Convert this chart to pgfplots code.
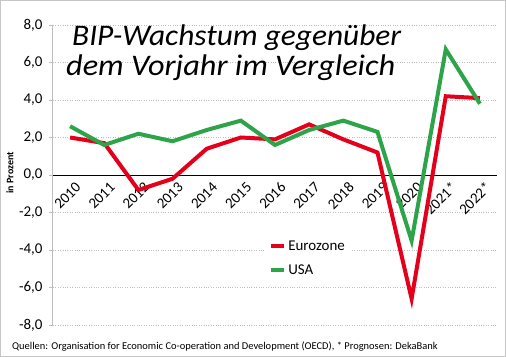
\documentclass[border=0pt]{standalone}
\usepackage{fontspec}
\setmainfont{Carlito}
\usepackage{pgfplots}
\pgfplotsset{compat=1.18}
\definecolor{eured}{RGB}{228,0,27}
\definecolor{usgreen}{RGB}{46,164,74}
\definecolor{gridgray}{RGB}{190,190,190}
\begin{document}
\begin{tikzpicture}
\useasboundingbox (0,0) rectangle (506bp,-357bp);
\draw[gray!45, line width=1bp] (0.5bp,-0.5bp) rectangle (505.5bp,-356.5bp);
\begin{axis}[
  at={(53bp,-325bp)}, anchor=south west,
  scale only axis, width=444bp, height=300bp,
  xmin=-0.5, xmax=12.5, ymin=-8, ymax=8,
  axis x line=middle, axis y line=left,
  x axis line style={black, line width=1bp, -},
  y axis line style={gridgray, line width=1bp, -},
  xtick={0,...,12},
  xticklabels={2010,2011,2012,2013,2014,2015,2016,2017,2018,2019,2020,2021*,2022*},
  x tick style={draw=none},
  extra x ticks={-0.5,0.5,...,12.5},
  extra x tick labels={},
  extra x tick style={tick style={black, line width=0.8bp}, major tick length=4bp, tick align=outside, xticklabel=\empty},
  ytick={-8,-6,...,8},
  y tick style={gridgray, line width=0.8bp},
  major tick length=4bp, tick align=outside,
  ymajorgrids, grid style={gridgray, dotted, line width=0.8bp},
  xticklabel style={rotate=45, anchor=east, font=\fontsize{15}{17}\selectfont, yshift=-10bp, xshift=5bp},
  yticklabel style={font=\fontsize{15}{17}\selectfont, xshift=-3bp},
  /pgf/number format/.cd, fixed, fixed zerofill, precision=1, use comma, assume math mode=true,
  /pgfplots/.cd,
  legend style={at={(0.48,0.295)}, anchor=north west, draw=none, fill=white,
    font=\fontsize{15}{17}\selectfont, row sep=9bp, inner xsep=3bp, inner ysep=2bp},
  legend cell align=left,
  legend image code/.code={\draw[#1, line width=4bp] (0bp,0bp) -- (13bp,0bp);},
]
\addplot[eured, line width=4bp, line join=miter] coordinates {
(0,2.0)(1,1.7)(2,-0.8)(3,-0.2)(4,1.4)(5,2.0)(6,1.9)(7,2.7)(8,1.9)(9,1.2)(10,-6.6)(11,4.2)(12,4.1)};
\addlegendentry{Eurozone}
\addplot[usgreen, line width=4bp, line join=miter] coordinates {
(0,2.6)(1,1.6)(2,2.2)(3,1.8)(4,2.4)(5,2.9)(6,1.6)(7,2.4)(8,2.9)(9,2.3)(10,-3.5)(11,6.7)(12,3.8)};
\addlegendentry{USA}
\end{axis}
\node[anchor=base west, font=\fontsize{30}{32}\selectfont\itshape, inner sep=0, xscale=1.05] at (72bp,-45bp) {BIP-Wachstum gegenüber};
\node[anchor=base west, font=\fontsize{30}{32}\selectfont\itshape, inner sep=0, xscale=1.08] at (66bp,-75bp) {dem Vorjahr im Vergleich};
\node[rotate=90, font=\fontsize{10}{12}\selectfont\bfseries] at (10bp,-173bp) {in Prozent};
\node[anchor=base west, font=\fontsize{10.5}{12}\selectfont, inner sep=0] at (12bp,-349bp) {Quellen: Organisation for Economic Co-operation and Development (OECD), * Prognosen: DekaBank};
\end{tikzpicture}
\end{document}
